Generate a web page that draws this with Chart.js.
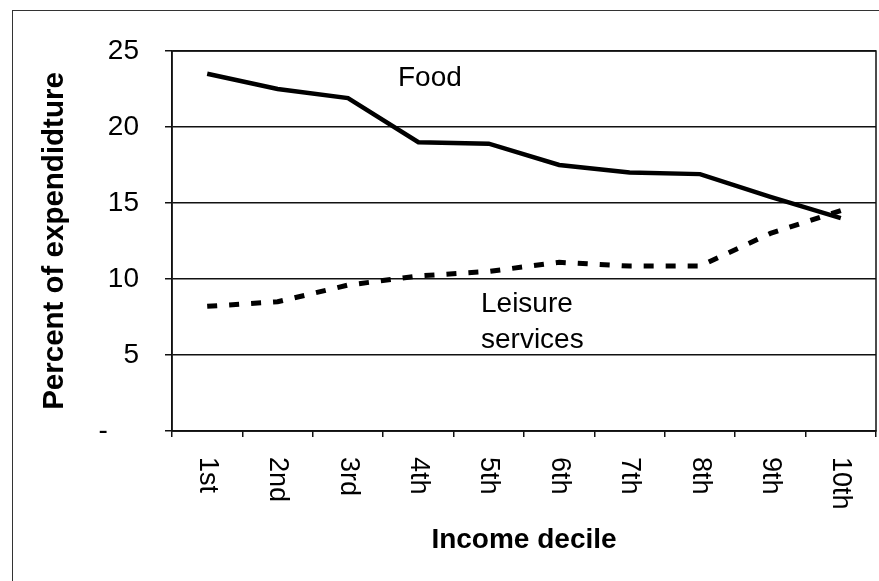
<!DOCTYPE html>
<html>
<head>
	<meta charset="UTF-8">
	<title>Food and leisure by income decile</title>
	<script src="https://cdn.jsdelivr.net/npm/chart.js"></script>
	<style>
	body{margin:0; background:#fff; overflow:hidden;}
	#frame{position:absolute; left:12px; top:10px; width:900px; height:600px; border:1.5px solid #333;}
	#wrap{position:absolute; left:0; top:0; width:879px; height:581px;}
	</style>
</head>
<body>
	<div id="frame"></div>
	<div id="wrap">
	  <canvas id="myChart" width="879" height="581"></canvas>
	</div>
	<script>
	// data
	var deciles = ['1st','2nd','3rd','4th','5th','6th','7th','8th','9th','10th'];
	var food    = [23.5, 22.5, 21.9, 19.0, 18.9, 17.5, 17.0, 16.9, 15.4, 14.0];
	var leisure = [8.2, 8.5, 9.6, 10.2, 10.5, 11.1, 10.85, 10.85, 13.0, 14.5];
	var yTicks  = [0, 5, 10, 15, 20, 25];

	var FONT = 'Liberation Sans, Arial, sans-serif';

	// x labels read top-to-bottom, plus the two series captions and the plot box
	var extras = {
		id: 'extras',
		afterDraw: function(chart){
			var ctx = chart.ctx;
			var a = chart.chartArea;
			var xs = chart.scales.x;
			ctx.save();
			ctx.strokeStyle = '#111';
			ctx.lineWidth = 1.5;
			ctx.strokeRect(a.left, a.top, a.right - a.left, a.bottom - a.top);

			ctx.fillStyle = '#000';
			ctx.font = '27px ' + FONT;
			ctx.textAlign = 'left';
			ctx.textBaseline = 'middle';
			deciles.forEach(function(lab, i){
				ctx.save();
				ctx.translate(xs.getPixelForValue(i), a.bottom + 26);
				ctx.rotate(Math.PI / 2);
				ctx.fillText(lab, 0, 0);
				ctx.restore();
			});

			ctx.font = '28px ' + FONT;
			ctx.textBaseline = 'alphabetic';
			ctx.fillText('Food', 398, 86);
			ctx.fillText('Leisure', 481, 312);
			ctx.fillText('services', 481, 348);
			ctx.restore();
		}
	};

	const ctx = document.getElementById('myChart');
	new Chart(ctx, {
		type: 'line',
		data: {
			labels: deciles,
			datasets: [{
				label: 'Food',
				data: food,
				borderColor: '#000',
				borderWidth: 4.5,
				pointRadius: 0,
				tension: 0,
				fill: false
			},{
				label: 'Leisure services',
				data: leisure,
				borderColor: '#000',
				borderWidth: 5,
				borderDash: [10, 12],
				borderCapStyle: 'butt',
				pointRadius: 0,
				tension: 0,
				fill: false
			}]
		},
		options: {
			responsive: false,
			animation: false,
			events: [],
			layout: { padding: { top: 51, right: 3, left: 0, bottom: 0 } },
			plugins: { legend: { display: false }, tooltip: { enabled: false } },
			scales: {
				x: {
					offset: true,
					afterFit: function(s){ s.height = 150; },
					grid: { offset: true, drawOnChartArea: false, drawTicks: true, tickLength: 6, color: '#111', lineWidth: 1.5 },
					border: { color: '#111', width: 1.5 },
					ticks: { display: false },
					title: {
						display: true,
						text: 'Income decile',
						color: '#000',
						font: { family: FONT, size: 28, weight: 'bold' },
						padding: { top: 0, bottom: 24 }
					}
				},
				y: {
					min: 0,
					max: 25,
					afterFit: function(s){ s.width = 172; },
					afterBuildTicks: function(s){ s.ticks = yTicks.map(function(v){ return { value: v }; }); },
					grid: { color: '#111', lineWidth: 1.5, tickLength: 7 },
					border: { color: '#111', width: 1.5 },
					ticks: {
						color: '#000',
						padding: 26,
						font: { family: FONT, size: 28 },
						callback: function(v){ return v === 0 ? '-    ' : String(v); }
					},
					title: {
						display: true,
						text: 'Percent of expendidture',
						color: '#000',
						font: { family: FONT, size: 29.5, weight: 'bold' },
						padding: { top: 37, bottom: 0 }
					}
				}
			}
		},
		plugins: [extras]
	});
	</script>
</body>
</html>
